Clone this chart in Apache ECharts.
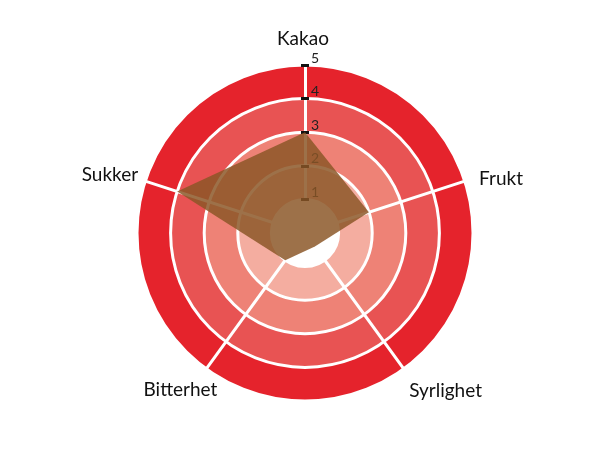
<!DOCTYPE html>
<html>
<head>
<meta charset="utf-8">
<script src="https://cdn.jsdelivr.net/npm/echarts@6/dist/echarts.min.js"></script>
<style>
  html, body { margin: 0; padding: 0; background: #fff; }
  #chart { width: 610px; height: 450px; }
</style>
</head>
<body>
<div id="chart"></div>
<script>
// indicators listed counter-clockwise from the top (echarts radar default direction)
var indicators = ['Kakao', 'Sukker', 'Bitterhet', 'Syrlighet', 'Frukt'];
var values = [3, 4, 1, 0.5, 2];
var maxValue = 5;
var tickLabels = ['', '1', '2', '3', '4', '5'];
var ringColors = ['#ffffff', '#f4ada0', '#ee8276', '#e85353', '#e5232c'];

// nudge of each name from its default spot (dx, dy in px)
var nameShift = {
	Kakao: [-2, -11],
	Frukt: [22, 2],
	Syrlighet: [33, 10],
	Bitterhet: [-17, 9],
	Sukker: [-21, -2]
};

var rich = {};
indicators.forEach(function (n, i) {
	var s = nameShift[n];
	rich['n' + i] = {
		fontSize: 19, fontFamily: 'Lato', color: '#111',
		padding: [Math.max(0, 2 * s[1]), Math.max(0, -2 * s[0]), Math.max(0, -2 * s[1]), Math.max(0, 2 * s[0])]
	};
});

var chart = echarts.init(document.getElementById('chart'));

var center = ['50%', 233];
var radius = 168;

// scale on the Kakao axis: two overlaid radius axes so the ticks cross the line
function scaleAxis(idx, tickLen, withLabels) {
	return {
		polarIndex: idx, type: 'category', data: tickLabels, boundaryGap: false,
		axisLine: { show: false },
		splitLine: { show: false },
		axisTick: {
			show: true, length: tickLen,
			interval: function (i) { return i > 0; },
			lineStyle: { color: '#111', width: 3 }
		},
		axisLabel: {
			show: withLabels, color: '#222', fontSize: 14, fontFamily: 'Lato',
			margin: -6, align: 'left', verticalAlign: 'bottom', interval: 0
		}
	};
}

chart.setOption({
	animation: false,
	radar: {
		center: center,
		radius: radius,
		shape: 'circle',
		startAngle: 90,
		splitNumber: 5,
		nameGap: 15,
		indicator: indicators.map(function (n) { return { name: n, min: 0, max: maxValue }; }),
		axisName: {
			color: '#111', fontSize: 19, fontFamily: 'Lato',
			align: 'center', verticalAlign: 'middle',
			formatter: function (name) { return '{n' + indicators.indexOf(name) + '|' + name + '}'; },
			rich: rich
		},
		axisLine: { lineStyle: { color: '#fff', width: 3 } },
		splitLine: { lineStyle: { color: '#fff', width: 3 } },
		splitArea: { areaStyle: { color: ringColors, opacity: 1 } }
	},
	polar: [
		{ center: center, radius: radius },
		{ center: center, radius: radius }
	],
	angleAxis: [
		{ polarIndex: 0, show: false, min: 0, max: 360, startAngle: 90 },
		{ polarIndex: 1, show: false, min: 0, max: 360, startAngle: 90 }
	],
	radiusAxis: [
		scaleAxis(0, 4, true),
		scaleAxis(1, -4, false)
	],
	series: [{
		type: 'radar',
		symbol: 'none',
		lineStyle: { width: 0 },
		areaStyle: { color: '#8a5626', opacity: 0.84 },
		data: [{ value: values, name: 'Smak' }]
	}]
});
</script>
</body>
</html>
